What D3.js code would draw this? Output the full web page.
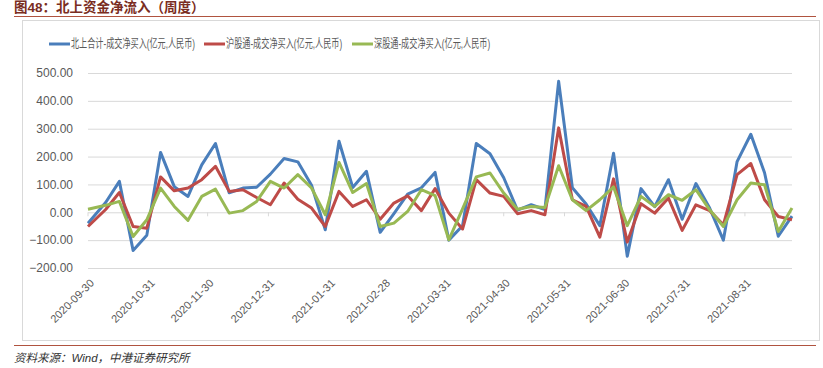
<!DOCTYPE html>
<html>
<head>
<meta charset="utf-8">
<script src="https://cdn.jsdelivr.net/npm/d3@7"></script>
<style>
  body { margin: 0; background: #fff; }
  svg { display: block; font-family: "Liberation Sans", "Noto Sans CJK SC", sans-serif; }
</style>
</head>
<body>
<script>
// weekly dates (week end)
var dates = ["2020-09-30","2020-10-09","2020-10-16","2020-10-23","2020-10-30","2020-11-06","2020-11-13","2020-11-20","2020-11-27",
  "2020-12-04","2020-12-11","2020-12-18","2020-12-25","2021-01-01","2021-01-08","2021-01-15","2021-01-22","2021-01-29",
  "2021-02-05","2021-02-12","2021-02-19","2021-02-26","2021-03-05","2021-03-12","2021-03-19","2021-03-26","2021-04-02",
  "2021-04-09","2021-04-16","2021-04-23","2021-04-30","2021-05-07","2021-05-14","2021-05-21","2021-05-28","2021-06-04",
  "2021-06-11","2021-06-18","2021-06-25","2021-07-02","2021-07-09","2021-07-16","2021-07-23","2021-07-30","2021-08-06",
  "2021-08-13","2021-08-20","2021-08-27","2021-09-03","2021-09-10","2021-09-17","2021-09-24"];

// 北上合计
var north = [-39,35,111,-137,-82,215,92,57,170,247,70,87,90,137,193,181,97,-63,255,89,147,-72,-5,65,88,
  143,-100,-48,247,210,124,8,27,10,470,88,30,-48,212,-158,85,20,117,-25,103,15,-100,182,280,142,-86,-14];
// 沪股通
var shanghai = [-51,10,71,-51,-57,127,77,87,117,165,75,81,53,27,105,47,15,-51,75,21,45,-25,33,59,6,
  85,-3,-60,117,69,57,-5,6,-9,303,45,21,-89,120,-107,31,-3,51,-65,27,6,-45,135,175,45,-15,-27];
// 深股通
var shenzhen = [11,25,39,-87,-27,87,21,-29,57,83,-3,6,39,111,87,135,87,-9,179,71,103,-51,-39,3,81,
  60,-99,12,127,141,69,11,21,17,167,45,6,45,91,-48,57,21,63,43,81,9,-51,45,105,99,-69,15];

var seriesNames = ["北上合计-成交净买入(亿元,人民币)", "沪股通-成交净买入(亿元,人民币)", "深股通-成交净买入(亿元,人民币)"];
var colors = ["#4a7ebb", "#be4b48", "#98b954"];
var yTicks = [-200, -100, 0, 100, 200, 300, 400, 500];
var xTicks = ["2020-09-30","2020-10-31","2020-11-30","2020-12-31","2021-01-31","2021-02-28",
  "2021-03-31","2021-04-30","2021-05-31","2021-06-30","2021-07-31","2021-08-31"];

var W = 823, H = 368;
var parse = d3.timeParse("%Y-%m-%d");

var svg = d3.select("body").append("svg").attr("width", W).attr("height", H);

// title + rules
svg.append("text").attr("x", 14).attr("y", 12)
  .attr("fill", "#7a2d22").attr("font-size", 13.5).attr("font-weight", "bold")
  .text("图48：北上资金净流入（周度）");
svg.append("line").attr("x1", 14).attr("x2", 816).attr("y1", 16.5).attr("y2", 16.5)
  .attr("stroke", "#b0533f").attr("stroke-width", 1.2);
svg.append("rect").attr("x", 22.5).attr("y", 20.5).attr("width", 797).attr("height", 320)
  .attr("fill", "none").attr("stroke", "#d9d9d9");
svg.append("line").attr("x1", 14).attr("x2", 816).attr("y1", 345.5).attr("y2", 345.5)
  .attr("stroke", "#b0533f").attr("stroke-width", 1.2);
svg.append("text").attr("x", 14).attr("y", 362)
  .attr("fill", "#333").attr("font-size", 11.5).attr("font-style", "italic")
  .text("资料来源：Wind，中港证券研究所");

var x = d3.scaleTime()
  .domain([parse(dates[0]), parse(dates[dates.length - 1])])
  .range([88, 792]);
var y = d3.scaleLinear().domain([-200, 500]).range([268, 73]);

// gridlines + y labels
var yAxis = svg.append("g").attr("transform", "translate(88,0)")
  .call(d3.axisLeft(y).tickValues(yTicks).tickSize(-704).tickPadding(15).tickFormat(d3.format(".2f")));
yAxis.select(".domain").remove();
yAxis.selectAll("line").attr("stroke", "#d9d9d9");
yAxis.selectAll("text").attr("fill", "#595959").attr("font-size", 12).attr("font-family", "Liberation Sans");

// x axis on zero line: ticks only
var xg = svg.append("g").attr("transform", "translate(0," + y(0) + ")");
xg.selectAll("line").data(xTicks).enter().append("line")
  .attr("x1", function(d) { return x(parse(d)); })
  .attr("x2", function(d) { return x(parse(d)); })
  .attr("y1", 0).attr("y2", 4)
  .attr("stroke", "#d9d9d9");
svg.selectAll(".xlab").data(xTicks).enter().append("text")
  .attr("class", "xlab")
  .attr("transform", function(d) { return "translate(" + (x(parse(d)) + 4) + ",281) rotate(-45)"; })
  .attr("text-anchor", "end")
  .attr("dy", "0.35em")
  .attr("fill", "#595959").attr("font-size", 11)
  .text(function(d) { return d; });

// lines
var line = d3.line()
  .x(function(d, i) { return x(parse(dates[i])); })
  .y(function(d) { return y(d); });

[north, shanghai, shenzhen].forEach(function(s, k) {
  svg.append("path").datum(s)
    .attr("d", line)
    .attr("fill", "none")
    .attr("stroke", colors[k])
    .attr("stroke-width", 3)
    .attr("stroke-linejoin", "round");
});

// legend (text squeezed horizontally like the original)
var legX = [49, 204, 352];
var legend = svg.selectAll(".leg").data(seriesNames).enter().append("g")
  .attr("transform", function(d, i) { return "translate(" + legX[i] + ",44)"; });
legend.append("line").attr("x1", 0).attr("x2", 21).attr("y1", 0).attr("y2", 0)
  .attr("stroke", function(d, i) { return colors[i]; }).attr("stroke-width", 3);
legend.append("text")
  .attr("transform", "translate(22,0) scale(0.7,1)")
  .attr("dy", "0.35em")
  .attr("fill", "#595959").attr("font-size", 12)
  .text(function(d) { return d; })
  .each(function(d, i) {
    var want = i == 0 ? 124 : 116;
    var w = this.getComputedTextLength();
    d3.select(this).attr("transform", "translate(22,0) scale(" + (want / w) + ",1)");
  });
</script>
</body>
</html>
